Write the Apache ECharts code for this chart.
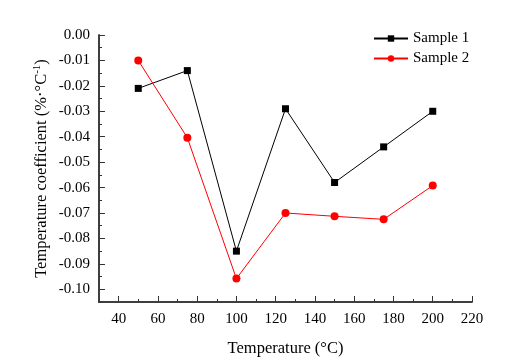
<!DOCTYPE html>
<html>
<head>
<meta charset="utf-8">
<script src="https://cdn.jsdelivr.net/npm/echarts@6/dist/echarts.min.js"></script>
<style>
  html, body { margin: 0; padding: 0; background: #fff; }
  #chart { width: 507px; height: 363px; }
</style>
</head>
<body>
<div id="chart"></div>
<script>
  var temps = [50, 75, 100, 125, 150, 175, 200];
  var sample1 = [-0.021, -0.014, -0.085, -0.029, -0.058, -0.044, -0.030];
  var sample2 = [-0.010, -0.0404, -0.0958, -0.070, -0.0713, -0.0725, -0.0592];
  var seriesNames = ['Sample 1', 'Sample 2'];
  var xTicks = [40, 60, 80, 100, 120, 140, 160, 180, 200, 220];
  var yTicks = [0, -0.01, -0.02, -0.03, -0.04, -0.05, -0.06, -0.07, -0.08, -0.09, -0.10];

  var dom = document.querySelector('#chart');
  var myChart = echarts.init(dom);
  var font = 'Liberation Serif';
  var axisColor = '#333';

  function pairs(ys) {
    return temps.map(function (t, i) { return [t, ys[i]]; });
  }

  var xRange = { min: 30, max: 220 };
  var yRange = { min: -0.105, max: 0 };

  var option = {
    backgroundColor: '#fff',
    animation: false,
    textStyle: { fontFamily: font },
    grid: { left: 99, right: 35, top: 35, bottom: 61 },
    legend: {
      top: 26,
      left: 368,
      orient: 'vertical',
      itemGap: 5,
      itemWidth: 34,
      itemHeight: 8,
      textStyle: { fontFamily: font, fontSize: 15, color: '#000' },
      data: seriesNames
    },
    xAxis: [
      {
        // minor ticks every 10
        type: 'value', position: 'bottom',
        min: xRange.min, max: xRange.max, interval: 10,
        name: 'Temperature (°C)',
        nameLocation: 'middle',
        nameGap: 38,
        nameTextStyle: { fontFamily: font, fontSize: 16.5, color: '#000' },
        axisLine: { onZero: false, lineStyle: { color: axisColor, width: 1.5 } },
        axisTick: { inside: true, length: 3, lineStyle: { color: axisColor } },
        axisLabel: { show: false },
        splitLine: { show: false }
      },
      {
        // major ticks and labels
        type: 'value', position: 'bottom',
        min: xRange.min, max: xRange.max,
        axisLine: { onZero: false, lineStyle: { color: axisColor, width: 1.5 } },
        axisTick: { inside: true, length: 6, customValues: xTicks, lineStyle: { color: axisColor } },
        axisLabel: {
          fontFamily: font, fontSize: 15, color: '#000', margin: 10,
          customValues: xTicks
        },
        splitLine: { show: false }
      }
    ],
    yAxis: [
      {
        type: 'value', position: 'left',
        min: yRange.min, max: yRange.max, interval: 0.005,
        name: '{a|Temperature coefficient (%·°C}{s|-1}{a|)}',
        nameLocation: 'middle',
        nameGap: 47,
        nameTextStyle: {
          rich: {
            a: { fontFamily: font, fontSize: 16.5, color: '#000', lineHeight: 20 },
            s: { fontFamily: font, fontSize: 11, color: '#000', verticalAlign: 'top', lineHeight: 20, padding: [0, 0, 7, 0] }
          }
        },
        axisLine: { show: true, onZero: false, lineStyle: { color: axisColor, width: 1.5 } },
        axisTick: { show: true, inside: true, length: 3, lineStyle: { color: axisColor } },
        axisLabel: { show: false },
        splitLine: { show: false }
      },
      {
        type: 'value', position: 'left',
        min: yRange.min, max: yRange.max,
        axisLine: { show: true, onZero: false, lineStyle: { color: axisColor, width: 1.5 } },
        axisTick: { show: true, inside: true, length: 6, customValues: yTicks, lineStyle: { color: axisColor } },
        axisLabel: {
          fontFamily: font, fontSize: 15, color: '#000', margin: 9,
          customValues: yTicks,
          formatter: function (v) { return v.toFixed(2); }
        },
        splitLine: { show: false }
      }
    ],
    series: [
      {
        name: seriesNames[0],
        type: 'line',
        xAxisIndex: 0, yAxisIndex: 0,
        data: pairs(sample1),
        symbol: 'rect',
        symbolSize: 7,
        itemStyle: { color: '#000' },
        lineStyle: { color: '#000', width: 1 }
      },
      {
        name: seriesNames[1],
        type: 'line',
        xAxisIndex: 0, yAxisIndex: 0,
        data: pairs(sample2),
        symbol: 'circle',
        symbolSize: 8,
        itemStyle: { color: '#ff0000' },
        lineStyle: { color: '#ff0000', width: 1 }
      }
    ]
  };
  myChart.setOption(option);
</script>
</body>
</html>
